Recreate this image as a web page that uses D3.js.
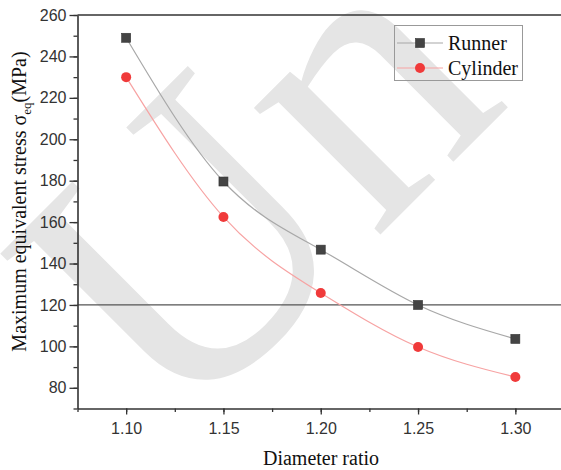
<!DOCTYPE html>
<html>
<head>
<meta charset="utf-8">
<script src="https://cdn.jsdelivr.net/npm/d3@7"></script>
<style>
  body { margin: 0; background: #fff; }
  svg { display: block; }
  .tick text { font-family: "Liberation Sans", Arial, sans-serif; font-size: 16px; fill: #333; }
  .serif { font-family: "Liberation Serif", "Times New Roman", serif; fill: #111; }
</style>
</head>
<body>
<div class="chart"></div>
<script>
const ratios = [1.10, 1.15, 1.20, 1.25, 1.30]
const runner = [249, 179.6, 146.7, 120, 103.6]
const cylinder = [230, 162.5, 125.8, 99.7, 85.2]
const yTicks = [80, 100, 120, 140, 160, 180, 200, 220, 240, 260]
const xTicks = [1.10, 1.15, 1.20, 1.25, 1.30]
const refLine = 120

const width = 561
const height = 470
const plotLeft = 77.5, plotTop = 15, plotBottom = 408.5, plotRight = 564

const svg = d3.select('.chart')
  .append('svg')
  .attr('width', width)
  .attr('height', height)

// watermark behind everything
svg.append('text')
  .attr('class', 'serif')
  .attr('transform', 'translate(175,440) rotate(-45)')
  .style('font-size', '390px')
  .style('fill', '#e5e5e5')
  .text('Un')

const x = d3.scaleLinear().domain([1.075, 1.325]).range([plotLeft, plotRight])
const y = d3.scaleLinear().domain([70, 260]).range([plotBottom, plotTop])

// top frame
svg.append('line')
  .attr('x1', plotLeft).attr('x2', width)
  .attr('y1', y(260)).attr('y2', y(260))
  .attr('stroke', '#333').attr('stroke-width', 1.6)

// reference line
svg.append('line')
  .attr('x1', plotLeft).attr('x2', width)
  .attr('y1', y(refLine)).attr('y2', y(refLine))
  .attr('stroke', '#555').attr('stroke-width', 1.3)

// minor ticks
svg.append('g')
  .attr('transform', `translate(${plotLeft},0)`)
  .call(d3.axisLeft(y).tickValues(d3.range(70, 261, 10)).tickSize(4).tickFormat(''))
  .call(g => g.select('.domain').remove())
  .call(g => g.selectAll('line').attr('stroke', '#333').attr('stroke-width', 1.3))

svg.append('g')
  .attr('transform', `translate(0,${plotBottom})`)
  .call(d3.axisBottom(x).tickValues(d3.range(1.075, 1.33, 0.025)).tickSize(3.5).tickFormat(''))
  .call(g => g.select('.domain').remove())
  .call(g => g.selectAll('line').attr('stroke', '#333').attr('stroke-width', 1.3))

// major axes
svg.append('g')
  .attr('transform', `translate(${plotLeft},0)`)
  .call(d3.axisLeft(y).tickValues(yTicks).tickSize(8).tickPadding(3).tickSizeOuter(0))
  .call(g => g.select('.domain').attr('stroke', '#333').attr('stroke-width', 1.6))
  .call(g => g.selectAll('.tick line').attr('stroke', '#333').attr('stroke-width', 1.3))

svg.append('g')
  .attr('transform', `translate(0,${plotBottom})`)
  .call(d3.axisBottom(x).tickValues(xTicks).tickSize(6).tickPadding(8).tickSizeOuter(0).tickFormat(d3.format('.2f')))
  .call(g => g.select('.domain').attr('stroke', '#333').attr('stroke-width', 1.6))
  .call(g => g.selectAll('.tick line').attr('stroke', '#333').attr('stroke-width', 1.3))

// curves
const line = d3.line().curve(d3.curveNatural)
  .x((d, i) => x(ratios[i]))
  .y(d => y(d))

svg.append('path')
  .datum(runner)
  .attr('d', line)
  .attr('fill', 'none')
  .attr('stroke', '#a8a8a8')
  .attr('stroke-width', 1.2)

svg.append('path')
  .datum(cylinder)
  .attr('d', line)
  .attr('fill', 'none')
  .attr('stroke', '#f7a3a3')
  .attr('stroke-width', 1.2)

svg.selectAll('rect.runner')
  .data(runner)
  .enter()
  .append('rect')
  .attr('class', 'runner')
  .attr('x', (d, i) => x(ratios[i]) - 4.5)
  .attr('y', d => y(d) - 4.5)
  .attr('width', 9)
  .attr('height', 9)
  .attr('fill', '#444')
  .attr('stroke', '#333')
  .attr('stroke-width', 0.6)

svg.selectAll('circle.cyl')
  .data(cylinder)
  .enter()
  .append('circle')
  .attr('class', 'cyl')
  .attr('cx', (d, i) => x(ratios[i]))
  .attr('cy', d => y(d))
  .attr('r', 5)
  .attr('fill', '#f03a3a')

// legend
const legend = svg.append('g')
legend.append('rect')
  .attr('x', 394.5).attr('y', 25.5)
  .attr('width', 128).attr('height', 55)
  .attr('fill', 'none')
  .attr('stroke', '#999')
  .attr('stroke-width', 1)

legend.append('line')
  .attr('x1', 397).attr('x2', 443).attr('y1', 43).attr('y2', 43)
  .attr('stroke', '#a8a8a8').attr('stroke-width', 1.2)
legend.append('rect')
  .attr('x', 415.5).attr('y', 38.5).attr('width', 9).attr('height', 9)
  .attr('fill', '#444').attr('stroke', '#333').attr('stroke-width', 0.6)
legend.append('text')
  .attr('class', 'serif')
  .attr('x', 448).attr('y', 49.5)
  .style('font-size', '20px')
  .text('Runner')

legend.append('line')
  .attr('x1', 397).attr('x2', 443).attr('y1', 68).attr('y2', 68)
  .attr('stroke', '#f7a3a3').attr('stroke-width', 1.2)
legend.append('circle')
  .attr('cx', 420).attr('cy', 68).attr('r', 5)
  .attr('fill', '#f03a3a')
legend.append('text')
  .attr('class', 'serif')
  .attr('x', 448).attr('y', 75)
  .style('font-size', '20px')
  .text('Cylinder')

// axis titles
svg.append('text')
  .attr('class', 'serif')
  .attr('x', 321)
  .attr('y', 465)
  .attr('text-anchor', 'middle')
  .style('font-size', '20px')
  .text('Diameter ratio')

const yTitle = svg.append('text')
  .attr('class', 'serif')
  .attr('transform', 'translate(26,201.5) rotate(-90)')
  .attr('text-anchor', 'middle')
  .style('font-size', '20px')
yTitle.append('tspan').text('Maximum equivalent stress σ')
yTitle.append('tspan').attr('dy', 5).style('font-size', '13px').text('eq')
yTitle.append('tspan').attr('dy', -5).text('(MPa)')
</script>
</body>
</html>
